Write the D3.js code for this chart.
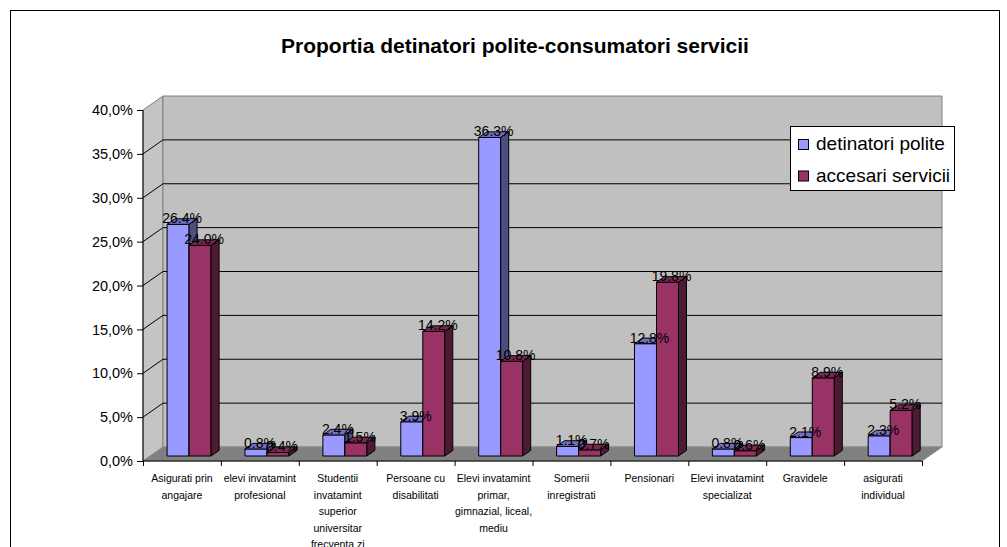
<!DOCTYPE html>
<html>
<head>
<meta charset="utf-8">
<script src="https://cdn.jsdelivr.net/npm/d3@7"></script>
<style>
  body { margin: 0; background: #fff; }
  svg { display: block; font-family: "Liberation Sans", Arial, sans-serif; }
</style>
</head>
<body>
<svg id="chart" width="1007" height="547"></svg>
<script>
// ---- data ----
const chartTitle = "Proportia detinatori polite-consumatori servicii";
const categories = [
  "Asigurati prin angajare",
  "elevi invatamint profesional",
  "Studentii invatamint superior universitar frecventa zi",
  "Persoane cu disabilitati",
  "Elevi invatamint primar, gimnazial, liceal, mediu",
  "Somerii inregistrati",
  "Pensionari",
  "Elevi invatamint specializat",
  "Gravidele",
  "asigurati individual"
];
// wrapped lines of each category label
const categoryLines = [
  ["Asigurati prin", "angajare"],
  ["elevi invatamint", "profesional"],
  ["Studentii", "invatamint", "superior", "universitar", "frecventa zi"],
  ["Persoane cu", "disabilitati"],
  ["Elevi invatamint", "primar,", "gimnazial, liceal,", "mediu"],
  ["Somerii", "inregistrati"],
  ["Pensionari"],
  ["Elevi invatamint", "specializat"],
  ["Gravidele"],
  ["asigurati", "individual"]
];
const seriesNames = ["detinatori polite", "accesari servicii"];
const detinatoriPolite = [26.4, 0.8, 2.4, 3.9, 36.3, 1.1, 12.8, 0.8, 2.1, 2.3];
const accesariServicii = [24.0, 0.4, 1.5, 14.2, 10.8, 0.7, 19.8, 0.6, 8.9, 5.2];
const yTickValues = [0, 5, 10, 15, 20, 25, 30, 35, 40];

// ---- style ----
const palette = [
  { front: "#9999FF", top: "#7070c0", side: "#4d4d80" },
  { front: "#993366", top: "#7a2952", side: "#4d1a33" }
];

const svg = d3.select("#chart");

// chart frame
svg.append("rect")
  .attr("x", 10.5).attr("y", 10.5)
  .attr("width", 989).attr("height", 560)
  .attr("fill", "#fff").attr("stroke", "#000").attr("stroke-width", 1);

svg.append("text")
  .attr("x", 515).attr("y", 53)
  .attr("text-anchor", "middle")
  .attr("font-size", 21).attr("font-weight", "bold")
  .text(chartTitle);

// ---- scales (front plane) and depth projection ----
const y = d3.scaleLinear().domain([0, 40]).range([461, 110]);
const x0 = d3.scaleBand().domain(categories).range([143, 922]).paddingInner(0).paddingOuter(0);
const x1 = d3.scaleBand().domain(seriesNames).range([0, x0.bandwidth()]).paddingInner(0).paddingOuter(0.77);
const xEdge = d3.scaleLinear().domain([0, categories.length]).range([143, 922]);

const DX = 20, DY = 14;          // full depth of the plot box
const zFront = 0.357, zBack = 0.757;  // depth span of the columns
const P = (xf, v, z) => [xf + DX * z, y(v) - DY * z];
const poly = pts => pts.map(p => p.join(",")).join(" ");

const xL = x0.range()[0], xR = x0.range()[1];
const vMax = y.domain()[1];

// side wall, back wall, floor
svg.append("polygon")
  .attr("points", poly([P(xL, 0, 0), P(xL, vMax, 0), P(xL, vMax, 1), P(xL, 0, 1)]))
  .attr("fill", "#c4c4c4").attr("stroke", "#808080");
svg.append("polygon")
  .attr("points", poly([P(xL, 0, 1), P(xL, vMax, 1), P(xR, vMax, 1), P(xR, 0, 1)]))
  .attr("fill", "#c0c0c0").attr("stroke", "#808080");
svg.append("polygon")
  .attr("points", poly([P(xL, 0, 0), P(xR, 0, 0), P(xR, 0, 1), P(xL, 0, 1)]))
  .attr("fill", "#808080").attr("stroke", "#8c8c8c");

// gridlines across side wall and back wall
svg.append("g").selectAll("polyline")
  .data(yTickValues.filter(v => v > 0 && v < vMax))
  .join("polyline")
  .attr("points", v => poly([P(xL, v, 0), P(xL, v, 1), P(xR, v, 1)]))
  .attr("fill", "none").attr("stroke", "#000").attr("stroke-width", 1);

// axes
const locale = d3.formatLocale({ decimal: ",", thousands: ".", grouping: [3], currency: ["", ""] });
const fmtAxis = locale.format(".1f");
const yAxis = svg.append("g")
  .attr("transform", `translate(${xL},0)`)
  .call(d3.axisLeft(y).tickValues(yTickValues).tickSize(6).tickPadding(4)
    .tickFormat(v => fmtAxis(v) + "%"));
yAxis.select(".domain").attr("stroke", "#000").attr("d", `M0,${y(0)}V${y(vMax)}`);
yAxis.selectAll("text").attr("font-size", 14.5).attr("font-family", "Liberation Sans, Arial, sans-serif").attr("fill", "#000");

const xAxis = svg.append("g")
  .attr("transform", `translate(0,${y(0)})`)
  .call(d3.axisBottom(xEdge).tickValues(d3.range(categories.length + 1)).tickSize(5).tickFormat(""));
xAxis.select(".domain").attr("stroke", "#000").attr("d", `M${xL},0H${xR}`);

// category labels
const catLabels = svg.append("g")
  .attr("font-size", 10.5).attr("text-anchor", "middle");
catLabels.selectAll("text")
  .data(categories)
  .join("text")
  .attr("x", d => x0(d) + x0.bandwidth() / 2)
  .attr("y", 482)
  .each(function (d, i) {
    d3.select(this).selectAll("tspan")
      .data(categoryLines[i])
      .join("tspan")
      .attr("x", x0(d) + x0.bandwidth() / 2)
      .attr("dy", (t, j) => j === 0 ? 0 : 16.6)
      .text(t => t);
  });

// ---- 3D columns ----
const series = [detinatoriPolite, accesariServicii];
const bars = [];
categories.forEach((c, i) => {
  seriesNames.forEach((s, k) => {
    bars.push({ cat: c, s, k, v: series[k][i] });
  });
});

const barG = svg.append("g").attr("stroke", "#000").attr("stroke-width", 1).attr("stroke-linejoin", "round");
bars.forEach(b => {
  const l = x0(b.cat) + x1(b.s), r = l + x1.bandwidth();
  const g = barG.append("g");
  g.append("polygon")
    .attr("points", poly([P(l, 0, zFront), P(l, b.v, zFront), P(r, b.v, zFront), P(r, 0, zFront)]))
    .attr("fill", palette[b.k].front);
  g.append("polygon")
    .attr("points", poly([P(l, b.v, zFront), P(l, b.v, zBack), P(r, b.v, zBack), P(r, b.v, zFront)]))
    .attr("fill", palette[b.k].top);
  g.append("polygon")
    .attr("points", poly([P(r, 0, zFront), P(r, b.v, zFront), P(r, b.v, zBack), P(r, 0, zBack)]))
    .attr("fill", palette[b.k].side);
});

// value labels
const fmtVal = d3.format(".1f");
svg.append("g").attr("font-size", 14).attr("text-anchor", "middle")
  .selectAll("text")
  .data(bars)
  .join("text")
  .attr("x", b => P(x0(b.cat) + x1(b.s) + x1.bandwidth() / 2, b.v, (zFront + zBack) / 2)[0])
  .attr("y", b => P(0, b.v, zFront)[1] - 1)
  .text(b => fmtVal(b.v) + "%");

// legend
const legend = svg.append("g");
legend.append("rect")
  .attr("x", 790.5).attr("y", 126.5).attr("width", 164).attr("height", 64)
  .attr("fill", "#fff").attr("stroke", "#000");
seriesNames.forEach((s, k) => {
  legend.append("rect")
    .attr("x", 798.5).attr("y", 139.5 + k * 31.5).attr("width", 10).attr("height", 10)
    .attr("fill", palette[k].front).attr("stroke", "#000");
  legend.append("text")
    .attr("x", 816).attr("y", 150 + k * 32)
    .attr("font-size", 19)
    .text(s);
});
</script>
</body>
</html>
